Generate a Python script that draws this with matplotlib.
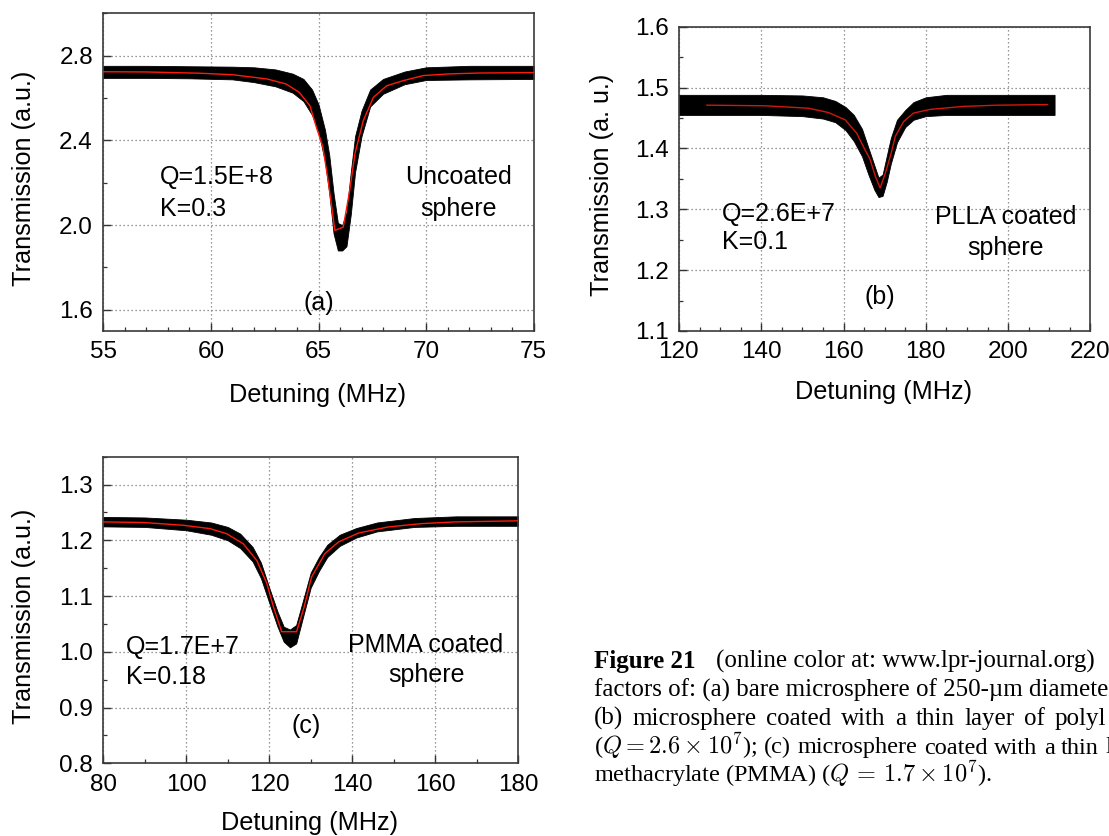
import matplotlib
matplotlib.use('Agg')
import matplotlib.pyplot as plt
from matplotlib.ticker import MultipleLocator, FormatStrFormatter

plt.rcParams['font.family'] = ['Liberation Sans', 'DejaVu Sans']
plt.rcParams['mathtext.fontset'] = 'cm'

W, H = 1109, 836

# ---------------- data ----------------
# (a) uncoated sphere: envelope of the noisy trace and the red fit
a_band_x  = [55.0, 57.0, 59.0, 61.0, 62.0, 63.0, 63.8, 64.3, 64.7, 65.0, 65.3, 65.5, 65.7,
             65.9, 66.1, 66.3, 66.5, 66.7, 67.0, 67.4, 68.0, 69.0, 70.0, 72.0, 75.0]
a_band_lo = [2.695, 2.695, 2.693, 2.688, 2.675, 2.655, 2.625, 2.585, 2.520, 2.440, 2.300, 2.150, 1.960,
             1.880, 1.880, 1.900, 2.050, 2.250, 2.420, 2.560, 2.620, 2.665, 2.685, 2.688, 2.690]
a_band_hi = [2.752, 2.752, 2.750, 2.748, 2.745, 2.735, 2.715, 2.690, 2.640, 2.570, 2.450, 2.330, 2.150,
             2.010, 2.000, 2.060, 2.250, 2.420, 2.540, 2.640, 2.690, 2.725, 2.745, 2.752, 2.752]
a_fit_x = [55.0, 57.0, 59.5, 61.0, 62.6, 63.5, 64.1, 64.6, 64.9, 65.2, 65.45, 65.76, 66.15,
           66.45, 66.7, 67.08, 67.55, 68.17, 68.94, 69.87, 71.1, 72.5, 75.0]
a_fit_y = [2.724, 2.723, 2.717, 2.710, 2.690, 2.666, 2.627, 2.564, 2.462, 2.370, 2.210, 1.975, 1.990,
           2.163, 2.340, 2.493, 2.603, 2.658, 2.682, 2.706, 2.714, 2.718, 2.720]

# (b) PLLA coated sphere
b_band_x  = [120, 130, 140, 150, 155, 158, 160.5, 162.5, 164.5, 166, 167.5, 168.5, 169.5,
             170.5, 171.5, 173, 175, 177, 180, 185, 195, 211.3]
b_band_lo = [1.455, 1.455, 1.455, 1.453, 1.449, 1.443, 1.430, 1.412, 1.387, 1.358, 1.332, 1.320, 1.322,
             1.345, 1.375, 1.410, 1.435, 1.447, 1.453, 1.455, 1.455, 1.455]
b_band_hi = [1.488, 1.488, 1.488, 1.487, 1.484, 1.478, 1.468, 1.455, 1.432, 1.402, 1.372, 1.352, 1.357,
             1.387, 1.417, 1.447, 1.463, 1.476, 1.484, 1.488, 1.488, 1.488]
b_fit_x = [126.8, 140.9, 151.5, 156.3, 160.4, 163.2, 165.2, 166.4, 167.7, 168.9, 170.2, 171.5,
           172.6, 174.6, 177.0, 181.0, 189.1, 197.3, 209.6]
b_fit_y = [1.471, 1.470, 1.466, 1.459, 1.447, 1.425, 1.398, 1.383, 1.355, 1.335, 1.360, 1.390,
           1.420, 1.444, 1.458, 1.464, 1.469, 1.471, 1.472]

# (c) PMMA coated sphere
c_band_x  = [80, 90, 100, 106, 110, 113, 116, 118, 120, 122, 123.5, 125, 126.5, 128, 130, 132,
             134, 137, 141, 146, 155, 165, 180]
c_band_lo = [1.225, 1.224, 1.218, 1.210, 1.200, 1.186, 1.162, 1.132, 1.088, 1.045, 1.018, 1.008, 1.015,
             1.058, 1.115, 1.145, 1.170, 1.190, 1.205, 1.216, 1.224, 1.226, 1.226]
c_band_hi = [1.242, 1.241, 1.237, 1.232, 1.224, 1.212, 1.188, 1.160, 1.115, 1.072, 1.045, 1.040, 1.048,
             1.088, 1.142, 1.170, 1.192, 1.210, 1.222, 1.232, 1.240, 1.243, 1.243]
c_fit_x = [80, 89.6, 99.3, 105.7, 109.7, 113.7, 117.0, 119.4, 121.0, 123.0, 126.6, 128.4, 130.2,
           133.4, 136.7, 141.5, 148.7, 156.8, 164.8, 180]
c_fit_y = [1.233, 1.232, 1.227, 1.221, 1.212, 1.194, 1.164, 1.123, 1.081, 1.036, 1.036, 1.080, 1.134,
           1.176, 1.197, 1.213, 1.224, 1.230, 1.233, 1.235]

panels = [
    dict(rect=[0.0932, 0.6041, 0.388, 0.380], xlim=(55, 75), ylim=(1.5, 3.0),
         xmaj=5, xmin=1, ymaj=0.4, ymin=0.2, yfirst=1.6, yfmt='%.1f',
         band=(a_band_x, a_band_lo, a_band_hi), fit=(a_fit_x, a_fit_y), fitcol='#ff1a0a',
         ylabel='Transmission (a.u.)', ylab_x=-0.185, xlab_y=-0.2015,
         left=[(57.65, 2.226, 'Q=1.5E+8'), (57.65, 2.077, 'K=0.3')],
         right=[(71.5, 2.226, 'Uncoated'), (71.5, 2.077, 'sphere')],
         tag=(65.0, 1.631, '(a)')),
    dict(rect=[0.6122, 0.6041, 0.371, 0.364], xlim=(120, 220), ylim=(1.1, 1.6),
         xmaj=20, xmin=5, ymaj=0.1, ymin=0.05, yfirst=1.1, yfmt='%.1f',
         band=(b_band_x, b_band_lo, b_band_hi), fit=(b_fit_x, b_fit_y), fitcol='#d0180c',
         ylabel='Transmission (a. u.)', ylab_x=-0.187, xlab_y=-0.1995,
         left=[(130.45, 1.293, 'Q=2.6E+7'), (130.45, 1.246, 'K=0.1')],
         right=[(199.5, 1.287, 'PLLA coated'), (199.4, 1.237, 'sphere')],
         tag=(168.8, 1.156, '(b)')),
    dict(rect=[0.0932, 0.0870, 0.3739, 0.3667], xlim=(80, 180), ylim=(0.8, 1.35),
         xmaj=20, xmin=10, ymaj=0.1, ymin=0.05, yfirst=0.8, yfmt='%.1f',
         band=(c_band_x, c_band_lo, c_band_hi), fit=(c_fit_x, c_fit_y), fitcol='#ff1a0a',
         ylabel='Transmission (a.u.)', ylab_x=-0.192, xlab_y=-0.195,
         left=[(85.5, 1.009, 'Q=1.7E+7'), (85.5, 0.955, 'K=0.18')],
         right=[(157.8, 1.012, 'PMMA coated'), (158.0, 0.958, 'sphere')],
         tag=(128.8, 0.866, '(c)')),
]

fig = plt.figure(figsize=(W / 100, H / 100), dpi=100)

TICK_FS = 17.5
LAB_FS = 18.2
ANN_FS = 18

for p in panels:
    ax = fig.add_axes(p['rect'])
    ax.set_xlim(*p['xlim'])
    ax.set_ylim(*p['ylim'])
    ax.xaxis.set_major_locator(MultipleLocator(p['xmaj']))
    ax.xaxis.set_minor_locator(MultipleLocator(p['xmin']))
    ax.yaxis.set_major_locator(MultipleLocator(p['ymaj'], offset=p['yfirst'] % p['ymaj']))
    ax.yaxis.set_minor_locator(MultipleLocator(p['ymin']))
    ax.yaxis.set_major_formatter(FormatStrFormatter(p['yfmt']))
    ax.xaxis.set_major_formatter(FormatStrFormatter('%d'))
    ax.set_axisbelow(True)
    ax.grid(True, which='major', linestyle=(0, (1, 2.2)), color='#777777', linewidth=0.9)
    ax.tick_params(which='both', direction='in', top=False, right=False,
                   labelsize=TICK_FS, color='#333333')
    ax.tick_params(which='major', length=5.5, width=1.0, pad=7.5)
    ax.tick_params(which='minor', length=3, width=0.9)
    for s in ax.spines.values():
        s.set_color('#3a3a3a')
        s.set_linewidth(1.2)

    bx, blo, bhi = p['band']
    ax.fill_between(bx, blo, bhi, color='black', linewidth=0.6, edgecolor='black', zorder=2)
    fx, fy = p['fit']
    ax.plot(fx, fy, color=p['fitcol'], linewidth=1.0, zorder=3)

    ax.text(p['ylab_x'], 0.48, p['ylabel'], rotation=90, ha='center', va='center',
            fontsize=LAB_FS, transform=ax.transAxes)
    ax.text(0.498, p['xlab_y'], 'Detuning (MHz)', ha='center', va='center',
            fontsize=LAB_FS, transform=ax.transAxes)
    for (x, y, s) in p['left']:
        ax.text(x, y, s, ha='left', va='center', fontsize=ANN_FS, zorder=4)
    for (x, y, s) in p['right']:
        ax.text(x, y, s, ha='center', va='center', fontsize=ANN_FS, zorder=4)
    tx, ty, ts = p['tag']
    ax.text(tx, ty, ts, ha='center', va='center', fontsize=ANN_FS, zorder=4)

# ---------------- caption (cut at the right edge like the source) ----------------
renderer = fig.canvas.get_renderer()
SERIF = ['Liberation Serif', 'DejaVu Serif']
X0 = 594


def put(x, ybase, s, fs=17.5, **kw):
    t = fig.text(x / W, 1 - ybase / H, s, ha='left', va='baseline', fontsize=fs,
                 family=SERIF, math_fontfamily='cm', **kw)
    return t, t.get_window_extent(renderer=renderer).width


def justify(words, ybase, anchor_index, anchor_x, fs=17.5):
    """Place words on one line with equal gaps so that words[anchor_index] starts at anchor_x."""
    made = [put(0, ybase, w, fs=fs) for w in words]
    gap = (anchor_x - X0 - sum(wd for _, wd in made[:anchor_index])) / float(anchor_index)
    x = X0
    for t, wd in made:
        t.set_x(x / W)
        x += wd + gap


base = [668, 696.5, 725, 753.5, 782]

put(X0, base[0], 'Figure 21', fs=18, weight='bold')
put(715.5, base[0], '(online color at: www.lpr-journal.org)', fs=18)
put(X0, base[1], 'factors of: (a) bare microsphere of 250-\u00b5m diameter', fs=18)
justify(['(b)', 'microsphere', 'coated', 'with', 'a', 'thin', 'layer', 'of', 'polyl'],
        base[2], 7, 1024, fs=18)
justify([r'($Q=2.6\times10^{7}$);', '(c)', 'microsphere', 'coated', 'with', 'a', 'thin', 'layer'],
        base[3], 6, 1061, fs=17.5)
put(X0, base[4], r'methacrylate (PMMA) ($Q\,=\,1.7\times10^{7}$).', fs=17.5)

fig.savefig('out.png', dpi=100)
